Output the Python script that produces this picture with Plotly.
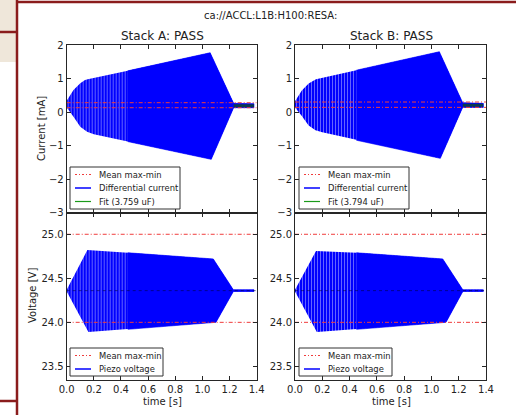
import plotly.graph_objects as go

FIG_W, FIG_H = 516, 415
FONT = "DejaVu Sans"

# ---------------- data ----------------
suptitle = "ca://ACCL:L1B:H100:RESA:"
stack_titles = ["Stack A: PASS", "Stack B: PASS"]
fit_labels = ["Fit (3.759 uF)", "Fit (3.794 uF)"]
current_legend = ["Mean max-min", "Differential current"]
voltage_legend = ["Mean max-min", "Piezo voltage"]
y_labels = ["Current [mA]", "Voltage [V]"]
x_label = "time [s]"

time_ticks = [0.0, 0.2, 0.4, 0.6, 0.8, 1.0, 1.2, 1.4]
time_tick_labels = ["0.0", "0.2", "0.4", "0.6", "0.8", "1.0", "1.2", "1.4"]
current_ticks = [-3, -2, -1, 0, 1, 2]
current_tick_labels = ["\u22123", "\u22122", "\u22121", "0", "1", "2"]
voltage_ticks = [23.5, 24.0, 24.5, 25.0]
voltage_tick_labels = ["23.5", "24.0", "24.5", "25.0"]
time_range = [0.0, 1.4]
current_range = [-3.0, 2.0]
voltage_range = [23.345, 25.245]

# Stack A differential current envelope (upper / lower edges)
curA_t_up = [0.0, 0.05, 0.10, 0.135, 0.155, 0.45, 1.057, 1.23, 1.38]
curA_up = [0.34, 0.66, 0.86, 0.96, 0.98, 1.23, 1.77, 0.26, 0.25]
curA_t_lo = [0.0, 0.05, 0.10, 0.15, 0.20, 0.45, 1.065, 1.23, 1.38]
curA_lo = [0.14, -0.14, -0.44, -0.59, -0.66, -0.88, -1.41, 0.13, 0.13]

# Stack B differential current envelope
curB_t_up = [0.0, 0.05, 0.10, 0.135, 0.154, 0.45, 1.058, 1.229, 1.38]
curB_up = [0.32, 0.64, 0.85, 0.95, 0.98, 1.25, 1.80, 0.28, 0.26]
curB_t_lo = [0.0, 0.05, 0.10, 0.15, 0.20, 0.45, 1.065, 1.229, 1.38]
curB_lo = [0.14, -0.12, -0.40, -0.54, -0.60, -0.84, -1.38, 0.14, 0.14]

# Stack A piezo voltage envelope
volA_t_up = [0.0, 0.152, 0.45, 1.08, 1.228, 1.38]
volA_up = [24.37, 24.82, 24.79, 24.72, 24.37, 24.37]
volA_t_lo = [0.0, 0.16, 0.45, 1.10, 1.228, 1.38]
volA_lo = [24.35, 23.89, 23.92, 24.00, 24.35, 24.35]

# Stack B piezo voltage envelope
volB_t_up = [0.0, 0.154, 0.45, 1.083, 1.23, 1.38]
volB_up = [24.37, 24.81, 24.79, 24.72, 24.37, 24.37]
volB_t_lo = [0.0, 0.16, 0.45, 1.107, 1.23, 1.38]
volB_lo = [24.35, 23.89, 23.92, 24.00, 24.35, 24.35]

# fit level on the quiet tail
fitA_t = [1.23, 1.38]
fitA_y = [0.19, 0.19]
fitB_t = [1.229, 1.38]
fitB_y = [0.20, 0.20]

# "Mean max-min" levels
curA_maxmin = [0.28, 0.13]
curB_maxmin = [0.30, 0.14]
volA_maxmin = [25.0, 24.0]
volB_maxmin = [25.0, 24.0]
volA_mean = 24.36
volB_mean = 24.36

STRIPE_T = 0.45  # end of the visibly striped part of each trace

BLUE = "#0000ff"
RED = "#f03c3c"
GREEN = "#1a9a1a"
MAROON = "#8a1c1c"
BEIGE = "#efe7da"


def px(x):
    return x / FIG_W


def py(y):
    return 1 - y / FIG_H


fig = go.Figure()


def envelope(t_up, up, t_lo, lo):
    return list(t_up) + list(reversed(t_lo)), list(up) + list(reversed(lo))


def add_signal(xa, ya, t_up, up, t_lo, lo):
    ex, ey = envelope(t_up, up, t_lo, lo)
    fig.add_trace(go.Scatter(
        x=ex, y=ey, mode="lines", fill="toself", xaxis=xa, yaxis=ya,
        line=dict(width=0, color=BLUE), fillcolor=BLUE,
        fillpattern=dict(shape="|", size=3, solidity=0.3,
                         fgcolor="#dcdcff", bgcolor=BLUE),
        showlegend=False, hoverinfo="skip"))
    ku = t_up.index(STRIPE_T)
    kl = t_lo.index(STRIPE_T)
    sx, sy = envelope(t_up[ku:], up[ku:], t_lo[kl:], lo[kl:])
    fig.add_trace(go.Scatter(
        x=sx, y=sy, mode="lines", fill="toself", xaxis=xa, yaxis=ya,
        line=dict(width=0.6, color=BLUE), fillcolor=BLUE,
        showlegend=False, hoverinfo="skip"))


def add_hlines(xa, ya, levels, color, dash, width=1):
    for v in levels:
        fig.add_trace(go.Scatter(
            x=time_range, y=[v, v], mode="lines", xaxis=xa, yaxis=ya,
            line=dict(color=color, width=width, dash=dash),
            showlegend=False, hoverinfo="skip"))


REDDASH = "4px,2px,1px,2px"

# current panels
add_signal("x", "y", curA_t_up, curA_up, curA_t_lo, curA_lo)
fig.add_trace(go.Scatter(x=fitA_t, y=fitA_y, mode="lines", xaxis="x", yaxis="y",
                         line=dict(color="#0b3b4b", width=3), showlegend=False))
add_hlines("x", "y", curA_maxmin, RED, REDDASH)

add_signal("x2", "y2", curB_t_up, curB_up, curB_t_lo, curB_lo)
fig.add_trace(go.Scatter(x=fitB_t, y=fitB_y, mode="lines", xaxis="x2", yaxis="y2",
                         line=dict(color="#0b3b4b", width=3), showlegend=False))
add_hlines("x2", "y2", curB_maxmin, RED, REDDASH)

# voltage panels
add_signal("x3", "y3", volA_t_up, volA_up, volA_t_lo, volA_lo)
add_hlines("x3", "y3", [volA_mean], "rgba(0,0,60,0.7)", "3px,3px", 0.8)
add_hlines("x3", "y3", volA_maxmin, RED, REDDASH)

add_signal("x4", "y4", volB_t_up, volB_up, volB_t_lo, volB_lo)
add_hlines("x4", "y4", [volB_mean], "rgba(0,0,60,0.7)", "3px,3px", 0.8)
add_hlines("x4", "y4", volB_maxmin, RED, REDDASH)

# ---------------- axes ----------------
xL = [px(66.7), px(256.7)]
xR = [px(295), px(486)]
yTop = [py(212.7), py(45)]
yBot = [py(380), py(212.7)]

AX_COL = "#262626"
base = dict(ticks="inside", ticklen=4, tickwidth=1, tickcolor=AX_COL,
            showline=True, linecolor=AX_COL, linewidth=1, mirror="ticks",
            showgrid=False, zeroline=False, automargin=False,
            tickfont=dict(family=FONT, size=10, color="#222"))


def xax(domain, anchor, labels):
    d = dict(base)
    d.update(domain=domain, anchor=anchor, range=time_range,
             tickvals=time_ticks, ticktext=time_tick_labels,
             showticklabels=labels)
    return d


def yax(domain, anchor, rng, vals, text):
    d = dict(base)
    d.update(domain=domain, anchor=anchor, range=rng,
             tickvals=vals, ticktext=text)
    return d


fig.update_layout(
    xaxis=xax(xL, "y", False),
    yaxis=yax(yTop, "x", current_range, current_ticks, current_tick_labels),
    xaxis2=xax(xR, "y2", False),
    yaxis2=yax(yTop, "x2", current_range, current_ticks, current_tick_labels),
    xaxis3=xax(xL, "y3", True),
    yaxis3=yax(yBot, "x3", voltage_range, voltage_ticks, voltage_tick_labels),
    xaxis4=xax(xR, "y4", True),
    yaxis4=yax(yBot, "x4", voltage_range, voltage_ticks, voltage_tick_labels),
)

# ---------------- text ----------------
ann = []


def text(x, y, s, size, angle=0, xanchor="center"):
    ann.append(dict(x=px(x), y=py(y), xref="paper", yref="paper", text=s,
                    showarrow=False, textangle=angle, xanchor=xanchor,
                    yanchor="middle",
                    font=dict(family=FONT, size=size, color="#222")))


text(270, 15, suptitle, 10)
text(162, 36, stack_titles[0], 12)
text(391, 36, stack_titles[1], 12)
text(41, 129, y_labels[0], 10, angle=-90)
text(32, 296, y_labels[1], 10, angle=-90)
text(162, 401, x_label, 10)
text(391, 401, x_label, 10)

# ---------------- manual legends ----------------
shapes = []


def legend(x0, y0, x1, y1, entries):
    shapes.append(dict(type="rect", xref="paper", yref="paper",
                       x0=px(x0), x1=px(x1), y0=py(y0), y1=py(y1),
                       fillcolor="white", line=dict(color="#333", width=1)))
    for i, (label, color, dash, width) in enumerate(entries):
        yc = y0 + 7.5 + i * 13.5
        shapes.append(dict(type="line", xref="paper", yref="paper",
                           x0=px(x0 + 5), x1=px(x0 + 21), y0=py(yc), y1=py(yc),
                           line=dict(color=color, width=width, dash=dash)))
        ann.append(dict(x=px(x0 + 26.5), y=py(yc), xref="paper", yref="paper",
                        text=label, showarrow=False, xanchor="left",
                        yanchor="middle",
                        font=dict(family=FONT, size=8.4, color="#222")))


legend(70, 167, 180, 209, [
    (current_legend[0], RED, "2px,2px,1px,2px", 1),
    (current_legend[1], BLUE, "solid", 1.5),
    (fit_labels[0], GREEN, "solid", 1.2)])
legend(299, 167, 409, 209, [
    (current_legend[0], RED, "2px,2px,1px,2px", 1),
    (current_legend[1], BLUE, "solid", 1.5),
    (fit_labels[1], GREEN, "solid", 1.2)])
legend(70, 348, 163, 376, [
    (voltage_legend[0], RED, "2px,2px,1px,2px", 1),
    (voltage_legend[1], BLUE, "solid", 1.5)])
legend(299, 348, 392, 376, [
    (voltage_legend[0], RED, "2px,2px,1px,2px", 1),
    (voltage_legend[1], BLUE, "solid", 1.5)])

# ---------------- slide decoration ----------------
deco = [
    dict(type="rect", xref="paper", yref="paper", x0=0, x1=px(17),
         y0=py(62), y1=py(0), fillcolor=BEIGE, line=dict(width=0), layer="below"),
    dict(type="line", xref="paper", yref="paper", x0=px(17), x1=px(17),
         y0=py(0), y1=py(415), line=dict(color=MAROON, width=2.5)),
    dict(type="line", xref="paper", yref="paper", x0=0, x1=px(17),
         y0=py(32), y1=py(32), line=dict(color=MAROON, width=2.5)),
    dict(type="line", xref="paper", yref="paper", x0=0, x1=px(17),
         y0=py(401), y1=py(401), line=dict(color=MAROON, width=2.5)),
    dict(type="line", xref="paper", yref="paper", x0=px(17), x1=1,
         y0=py(2), y1=py(2), line=dict(color=MAROON, width=2.5)),
]

fig.update_layout(
    width=FIG_W, height=FIG_H,
    margin=dict(l=0, r=0, t=0, b=0),
    paper_bgcolor="white", plot_bgcolor="white",
    showlegend=False,
    annotations=ann,
    shapes=deco + shapes,
    font=dict(family=FONT),
)

fig.write_html(
    "out.html",
    config={"displayModeBar": False},
    post_script="document.body.style.margin='0px';document.body.style.overflow='hidden';",
)
